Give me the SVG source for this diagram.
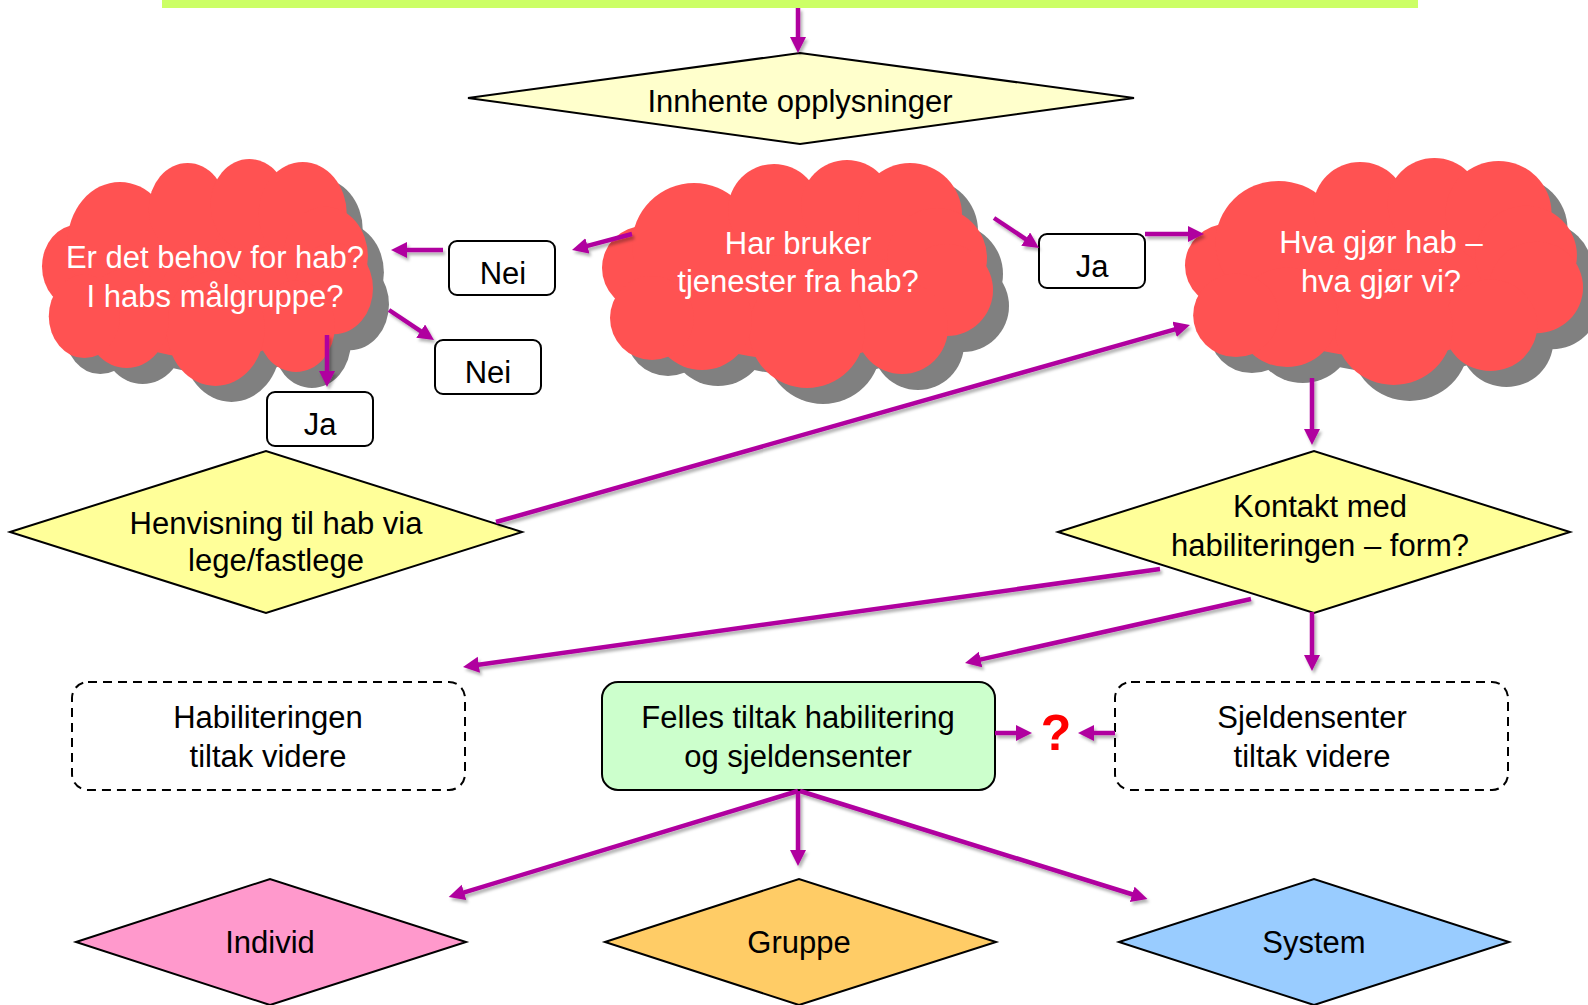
<svg xmlns="http://www.w3.org/2000/svg" xmlns:xlink="http://www.w3.org/1999/xlink" width="1588" height="1005" viewBox="0 0 1588 1005">
<style>
text{font-family:"Liberation Sans",Arial,sans-serif;font-size:31px;text-anchor:middle;fill:#000}
.w{fill:#fff}
.dia{stroke:#000;stroke-width:2}
.lbl{fill:#fff;stroke:#000;stroke-width:2}
.dash{fill:#fff;stroke:#000;stroke-width:2;stroke-dasharray:9 6}
.con{fill:none;stroke:#B0009F;stroke-width:4.5;marker-end:url(#ah)}
.q{fill:#FF0000;font-weight:bold;font-size:50px}
</style>
<defs>
<marker id="ah" markerUnits="userSpaceOnUse" markerWidth="18" markerHeight="18" refX="4" refY="8" orient="auto">
<path d="M0,0 L16,8 L0,16 z" fill="#B0009F"/>
</marker>
<filter id="sh" x="-10%" y="-10%" width="120%" height="120%">
<feDropShadow dx="2" dy="3" stdDeviation="1.5" flood-color="#000" flood-opacity="0.3"/>
</filter>
<g id="cloud">
<ellipse cx="195" cy="115" rx="160" ry="85"/>
<circle cx="42" cy="108" r="42"/>
<circle cx="92" cy="85" r="62"/>
<circle cx="172" cy="50" r="46"/>
<circle cx="245" cy="46" r="46"/>
<circle cx="308" cy="55" r="52"/>
<circle cx="335" cy="98" r="50"/>
<circle cx="345" cy="130" r="46"/>
<circle cx="300" cy="168" r="46"/>
<circle cx="205" cy="170" r="58"/>
<circle cx="100" cy="160" r="50"/>
<circle cx="50" cy="158" r="42"/>
</g>
</defs>

<rect id="topbar" x="162" y="0" width="1256" height="8" fill="#CCFF66"/>

<g id="innhente">
<polygon class="dia" points="468,98 800,53 1134,98 800,144" fill="#FFFFCC"/>
<text x="800" y="112">Innhente opplysninger</text>
</g>

<g id="cloud-behov">
<use xlink:href="#cloud" href="#cloud" transform="translate(58,175) scale(0.8465,0.9956)" fill="#808080"/>
<use xlink:href="#cloud" href="#cloud" transform="translate(42,159) scale(0.8465,0.9956)" fill="#FF5252"/>
<text class="w" x="215" y="268">Er det behov for hab?</text>
<text class="w" x="215" y="307">I habs målgruppe?</text>
</g>

<g id="cloud-bruker">
<use xlink:href="#cloud" href="#cloud" transform="translate(618,176)" fill="#808080"/>
<use xlink:href="#cloud" href="#cloud" transform="translate(602,160)" fill="#FF5252"/>
<text class="w" x="798" y="254">Har bruker</text>
<text class="w" x="798" y="292">tjenester fra hab?</text>
</g>

<g id="cloud-hva">
<use xlink:href="#cloud" href="#cloud" transform="translate(1201,174) scale(1.018,0.9956)" fill="#808080"/>
<use xlink:href="#cloud" href="#cloud" transform="translate(1185,158) scale(1.018,0.9956)" fill="#FF5252"/>
<text class="w" x="1381" y="253">Hva gjør hab –</text>
<text class="w" x="1381" y="292">hva gjør vi?</text>
</g>

<g id="nei1">
<rect class="lbl" x="449" y="241" width="106" height="54" rx="8"/>
<text x="503" y="284">Nei</text>
</g>
<g id="nei2">
<rect class="lbl" x="435" y="340" width="106" height="54" rx="8"/>
<text x="488" y="383">Nei</text>
</g>
<g id="ja1">
<rect class="lbl" x="267" y="392" width="106" height="54" rx="8"/>
<text x="320" y="435">Ja</text>
</g>
<g id="ja2">
<rect class="lbl" x="1039" y="234" width="106" height="54" rx="8"/>
<text x="1092" y="277">Ja</text>
</g>

<g id="henvisning">
<polygon class="dia" points="10,532 266,451 522,532 266,613" fill="#FFFF99"/>
<text x="276" y="534">Henvisning til hab via</text>
<text x="276" y="571">lege/fastlege</text>
</g>

<g id="kontakt">
<polygon class="dia" points="1058,532 1314,451 1570,532 1314,613" fill="#FFFF99"/>
<text x="1320" y="517">Kontakt med</text>
<text x="1320" y="556">habiliteringen – form?</text>
</g>

<g id="habiliteringen">
<rect class="dash" x="72" y="682" width="393" height="108" rx="16"/>
<text x="268" y="728">Habiliteringen</text>
<text x="268" y="767">tiltak videre</text>
</g>

<g id="felles">
<rect x="602" y="682" width="393" height="108" rx="16" fill="#CCFFCC" stroke="#000" stroke-width="2"/>
<text x="798" y="728">Felles tiltak habilitering</text>
<text x="798" y="767">og sjeldensenter</text>
</g>

<g id="sjeldensenter">
<rect class="dash" x="1115" y="682" width="393" height="108" rx="16"/>
<text x="1312" y="728">Sjeldensenter</text>
<text x="1312" y="767">tiltak videre</text>
</g>

<g id="question">
<text class="q" x="1056" y="750">?</text>
</g>

<g id="individ">
<polygon class="dia" points="76,942 270,879 466,942 270,1005" fill="#FF99CC"/>
<text x="270" y="953">Individ</text>
</g>
<g id="gruppe">
<polygon class="dia" points="605,942 799,879 996,942 799,1005" fill="#FFCC66"/>
<text x="799" y="953">Gruppe</text>
</g>
<g id="system">
<polygon class="dia" points="1119,942 1314,879 1509,942 1314,1005" fill="#99CCFF"/>
<text x="1314" y="953">System</text>
</g>

<g id="connectors" filter="url(#sh)">
<line class="con" x1="798" y1="8" x2="798" y2="41"/>
<line class="con" x1="632" y1="234" x2="583.6" y2="246.9"/>
<line class="con" x1="443" y1="250" x2="403" y2="250"/>
<line class="con" x1="389" y1="310" x2="424" y2="333.3"/>
<line class="con" x1="327" y1="335" x2="327" y2="375"/>
<line class="con" x1="994" y1="218" x2="1029" y2="241.3"/>
<line class="con" x1="1145" y1="234" x2="1192" y2="234"/>
<line class="con" x1="496" y1="522" x2="1178.4" y2="328.3"/>
<line class="con" x1="1312" y1="378" x2="1312" y2="433"/>
<line class="con" x1="1160" y1="569" x2="474.9" y2="665.3"/>
<line class="con" x1="1251" y1="599" x2="976.7" y2="660.4"/>
<line class="con" x1="1312" y1="612" x2="1312" y2="659"/>
<line class="con" x1="995" y1="733" x2="1020" y2="733"/>
<line class="con" x1="1115" y1="733" x2="1090" y2="733"/>
<line class="con" x1="798" y1="791" x2="460.2" y2="893.6"/>
<line class="con" x1="798" y1="791" x2="798" y2="854"/>
<line class="con" x1="800" y1="791" x2="1136" y2="895.5"/>
</g>
</svg>
